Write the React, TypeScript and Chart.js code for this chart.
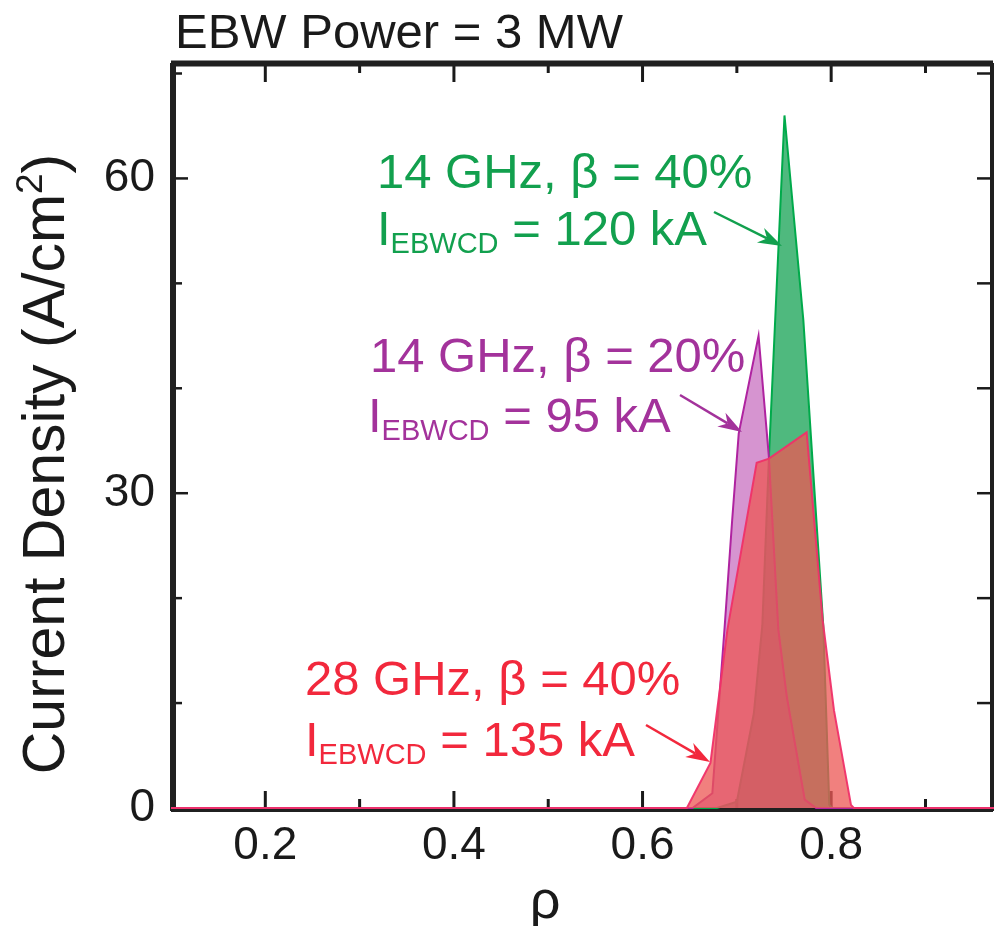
import React, { useEffect, useRef } from "react";
import { Chart, registerables } from "chart.js";

Chart.register(...registerables);

// ---- data ----
const rhoGreen = [0.1, 0.679, 0.7, 0.718, 0.727, 0.734, 0.7505, 0.7705, 0.7916, 0.798, 0.801, 1.0];
const jGreen = [0, 0, 0.6, 9.0, 17.4, 33.4, 66.0, 46.5, 17.4, 0.3, 0, 0];

const rhoPurple = [0.1, 0.653, 0.674, 0.687, 0.695, 0.702, 0.723, 0.734, 0.744, 0.753, 0.772, 0.784, 1.0];
const jPurple = [0, 0, 1.4, 17.2, 27.4, 35.7, 45.0, 33.4, 17.0, 10.6, 0.8, 0, 0];

const rhoRed = [0.1, 0.647, 0.672, 0.69, 0.721, 0.734, 0.774, 0.791, 0.803, 0.821, 0.824, 1.0];
const jRed = [0, 0, 4.3, 17.0, 32.9, 33.3, 35.8, 17.9, 9.3, 0.3, 0, 0];

const xLabelValues = [0.2, 0.4, 0.6, 0.8];
const xMinorTicks = [0.3, 0.5, 0.7, 0.9];
const yLabelValues = [0, 30, 60];
const yTickValues = [10, 20, 30, 40, 50, 60, 70];

const X_MIN = 0.1;
const X_MAX = 0.9716;
const Y_MIN = 0;
const Y_MAX = 71;

const TITLE = "EBW Power = 3 MW";
const Y_TITLE = "Current Density (A/cm";
const X_TITLE = "ρ";

const FONT = "'Liberation Sans', Arial, Helvetica, sans-serif";
const INK = "#1a1a1a";

const GREEN_TXT = "#12a04e";
const PURPLE_TXT = "#a3329b";
const RED_TXT = "#f2283c";

const annotations = [
  { color: GREEN_TXT, line1: "14 GHz, β = 40%", current: " = 120 kA", x1: 377, y1: 188, x2: 377, y2: 245, arrow: [714, 212, 782, 246] },
  { color: PURPLE_TXT, line1: "14 GHz, β = 20%", current: " = 95 kA", x1: 370, y1: 372, x2: 368, y2: 432, arrow: [680, 395, 742, 432] },
  { color: RED_TXT, line1: "28 GHz, β = 40%", current: " = 135 kA", x1: 305, y1: 695, x2: 305, y2: 756, arrow: [646, 725, 710, 762] },
];

function pts(xs: number[], ys: number[]) {
  return xs.map((x, i) => ({ x, y: ys[i] }));
}

function drawArrow(ctx: CanvasRenderingContext2D, x0: number, y0: number, x1: number, y1: number, color: string) {
  const ang = Math.atan2(y1 - y0, x1 - x0);
  const len = 24;
  const hw = 8;
  ctx.save();
  ctx.strokeStyle = color;
  ctx.fillStyle = color;
  ctx.lineWidth = 2.5;
  ctx.beginPath();
  ctx.moveTo(x0, y0);
  ctx.lineTo(x1 - Math.cos(ang) * len * 0.7, y1 - Math.sin(ang) * len * 0.7);
  ctx.stroke();
  const bx = x1 - Math.cos(ang) * len;
  const by = y1 - Math.sin(ang) * len;
  const nx = x1 - Math.cos(ang) * len * 0.7;
  const ny = y1 - Math.sin(ang) * len * 0.7;
  ctx.beginPath();
  ctx.moveTo(x1, y1);
  ctx.lineTo(bx + Math.sin(ang) * hw, by - Math.cos(ang) * hw);
  ctx.lineTo(nx, ny);
  ctx.lineTo(bx - Math.sin(ang) * hw, by + Math.cos(ang) * hw);
  ctx.closePath();
  ctx.fill();
  ctx.restore();
}

const decorPlugin = {
  id: "decor",
  beforeDatasetsDraw(chart: any) {
    const { ctx, chartArea: a, scales } = chart;
    const x = scales.x;
    const y = scales.y;
    ctx.save();
    ctx.strokeStyle = INK;
    ctx.lineWidth = 3;
    const seg = (x0: number, y0: number, x1: number, y1: number) => {
      ctx.beginPath();
      ctx.moveTo(x0, y0);
      ctx.lineTo(x1, y1);
      ctx.stroke();
    };
    for (const v of xLabelValues) {
      const px = x.getPixelForValue(v);
      seg(px, a.bottom, px, a.bottom - 17);
      seg(px, a.top, px, a.top + 19);
    }
    for (const v of xMinorTicks) {
      const px = x.getPixelForValue(v);
      seg(px, a.bottom, px, a.bottom - 9);
      seg(px, a.top, px, a.top + 10);
    }
    ctx.lineWidth = 2.5;
    for (const v of yTickValues) {
      const py = y.getPixelForValue(v);
      const major = yLabelValues.includes(v);
      seg(a.left, py, a.left + (major ? 17 : 11), py);
      seg(a.right, py, a.right - 16, py);
    }
    // frame
    ctx.lineWidth = 6;
    ctx.strokeStyle = "#202020";
    seg(a.left + 2, a.top, a.left + 2, a.bottom + 3);
    seg(a.left, a.top + 0.5, a.right, a.top + 0.5);
    seg(a.right, a.top, a.right, a.bottom + 3);
    ctx.lineWidth = 4;
    seg(a.left, a.bottom + 2, a.right, a.bottom + 2);
    ctx.restore();
  },
  afterDraw(chart: any) {
    const { ctx } = chart;
    ctx.save();
    // title
    ctx.fillStyle = INK;
    ctx.font = `49px ${FONT}`;
    ctx.textAlign = "left";
    ctx.textBaseline = "alphabetic";
    ctx.fillText(TITLE, 175, 48);

    // y title, rotated
    ctx.save();
    ctx.translate(64, 464);
    ctx.rotate(-Math.PI / 2);
    const big = `59px ${FONT}`;
    const sup = `37px ${FONT}`;
    ctx.font = big;
    const w1 = ctx.measureText(Y_TITLE).width;
    const w3 = ctx.measureText(")").width;
    ctx.font = sup;
    const w2 = ctx.measureText("2").width;
    let sx = -(w1 + w2 + w3) / 2;
    ctx.font = big;
    ctx.fillText(Y_TITLE, sx, 0);
    sx += w1;
    ctx.font = sup;
    ctx.fillText("2", sx, -22);
    sx += w2;
    ctx.font = big;
    ctx.fillText(")", sx, 0);
    ctx.restore();

    // x title
    ctx.font = `54px ${FONT}`;
    ctx.textAlign = "center";
    ctx.fillText(X_TITLE, 545, 918);

    // annotations
    for (const an of annotations) {
      ctx.fillStyle = an.color;
      ctx.textAlign = "left";
      ctx.font = `49px ${FONT}`;
      ctx.fillText(an.line1, an.x1, an.y1);
      let cx = an.x2;
      ctx.fillText("I", cx, an.y2);
      cx += ctx.measureText("I").width;
      ctx.font = `29px ${FONT}`;
      ctx.fillText("EBWCD", cx, an.y2 + 8);
      cx += ctx.measureText("EBWCD").width;
      ctx.font = `49px ${FONT}`;
      ctx.fillText(an.current, cx, an.y2);
      const [ax0, ay0, ax1, ay1] = an.arrow;
      drawArrow(ctx, ax0, ay0, ax1, ay1, an.color);
    }
    ctx.restore();
  },
};

export default function App() {
  const ref = useRef<HTMLCanvasElement | null>(null);

  useEffect(() => {
    if (!ref.current) return;
    const chart = new Chart(ref.current, {
      type: "line",
      data: {
        datasets: [
          {
            label: "28 GHz, β = 40%",
            data: pts(rhoRed, jRed),
            borderColor: "rgba(240,50,105,0.95)",
            backgroundColor: "rgba(236,88,85,0.76)",
            borderWidth: 2,
            fill: "origin",
            pointRadius: 0,
            tension: 0,
            clip: false as any,
            order: 1,
          },
          {
            label: "14 GHz, β = 20%",
            data: pts(rhoPurple, jPurple),
            borderColor: "rgba(175,35,160,1)",
            backgroundColor: "rgba(180,60,170,0.55)",
            borderWidth: 2,
            fill: "origin",
            pointRadius: 0,
            tension: 0,
            clip: false as any,
            order: 2,
          },
          {
            label: "14 GHz, β = 40%",
            data: pts(rhoGreen, jGreen),
            borderColor: "rgba(0,170,75,1)",
            backgroundColor: "rgba(30,165,90,0.78)",
            borderWidth: 2,
            fill: "origin",
            pointRadius: 0,
            tension: 0,
            clip: false as any,
            order: 3,
          },
        ],
      },
      options: {
        animation: false,
        responsive: false,
        events: [],
        layout: { padding: { top: 63, right: 5, left: 0, bottom: 0 } },
        plugins: {
          legend: { display: false },
          tooltip: { enabled: false },
          title: { display: false },
        },
        scales: {
          x: {
            type: "linear",
            min: X_MIN,
            max: X_MAX,
            border: { display: false },
            grid: { display: false, drawTicks: false },
            ticks: {
              stepSize: 0.1,
              autoSkip: false,
              maxRotation: 0,
              padding: 11,
              color: INK,
              font: { family: FONT, size: 46 },
              callback: (v: any) => {
                const r = Math.round(Number(v) * 10) / 10;
                return xLabelValues.includes(r) ? r.toFixed(1) : "";
              },
            },
            afterFit: (s: any) => {
              s.height = 118;
            },
          },
          y: {
            type: "linear",
            min: Y_MIN,
            max: Y_MAX,
            border: { display: false },
            grid: { display: false, drawTicks: false },
            ticks: {
              stepSize: 10,
              autoSkip: false,
              padding: 16,
              color: INK,
              font: { family: FONT, size: 46 },
              callback: (v: any) => (yLabelValues.includes(Number(v)) ? String(v) : ""),
            },
            afterFit: (s: any) => {
              s.width = 171;
            },
          },
        },
      },
      plugins: [decorPlugin],
    });
    return () => chart.destroy();
  }, []);

  return (
    <div style={{ position: "absolute", left: 0, top: 0, width: 994, height: 926, overflow: "hidden", background: "#fff" }}>
      <canvas ref={ref} width={1004} height={926} style={{ display: "block" }} />
    </div>
  );
}
